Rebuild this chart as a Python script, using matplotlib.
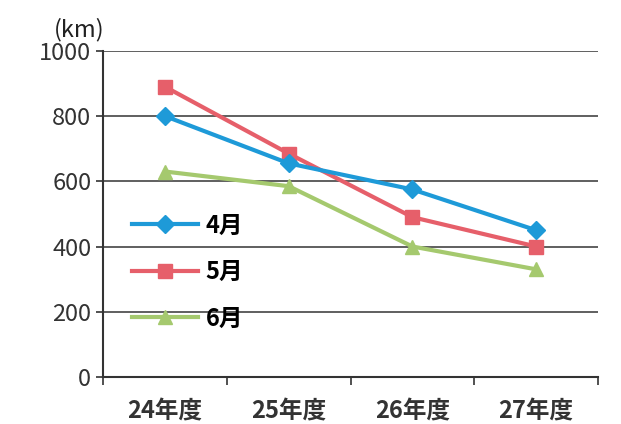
import matplotlib.pyplot as plt

plt.rcParams['font.family'] = ['Noto Sans CJK JP', 'DejaVu Sans']

# データ
years = ["24年度", "25年度", "26年度", "27年度"]
apr = [800, 655, 575, 450]
may = [890, 685, 490, 400]
jun = [630, 585, 400, 330]

fig = plt.figure(figsize=(6.21, 4.24), dpi=100)
ax = fig.add_axes([0.166, 0.111, 0.797, 0.769])

x = list(range(len(years)))
ax.plot(x, apr, color='#1e9ad8', lw=3, marker='D', ms=9, label='4月', zorder=4)
ax.plot(x, may, color='#e65f6a', lw=3, marker='s', ms=10, label='5月', zorder=3)
ax.plot(x, jun, color='#a5c96e', lw=3, marker='^', ms=10, label='6月', zorder=2)

ax.set_xlim(-0.5, 3.5)
ax.set_ylim(0, 1000)
ax.set_yticks(range(0, 1001, 200))
ax.set_xticks(x)
ax.set_xticklabels(years, fontsize=17, fontweight='bold', color='#333333')
ax.set_xticks([-0.5, 0.5, 1.5, 2.5, 3.5], minor=True)
ax.tick_params(axis='x', which='major', length=0, pad=16)
ax.tick_params(axis='x', which='minor', length=6, width=1.2, color='#333333')
ax.tick_params(axis='y', labelsize=17, colors='#333333', length=5, width=1.2)

ax.grid(axis='y', color='#444444', lw=1.2)
ax.set_axisbelow(True)
for s in ['top', 'right']:
    ax.spines[s].set_visible(False)
ax.spines['left'].set_color('#333333')
ax.spines['left'].set_linewidth(1.5)
ax.spines['bottom'].set_color('#333333')
ax.spines['bottom'].set_linewidth(1.5)

ax.text(-0.1, 1.045, "(km)", transform=ax.transAxes, fontsize=17, color='#222222')

ax.legend(loc='upper left', bbox_to_anchor=(0.04, 0.53), frameon=False,
          prop={'size': 17, 'weight': 'bold'}, handlelength=2.8,
          handletextpad=0.3, labelspacing=0.95, borderaxespad=0)

fig.savefig('out.png', dpi=100)
